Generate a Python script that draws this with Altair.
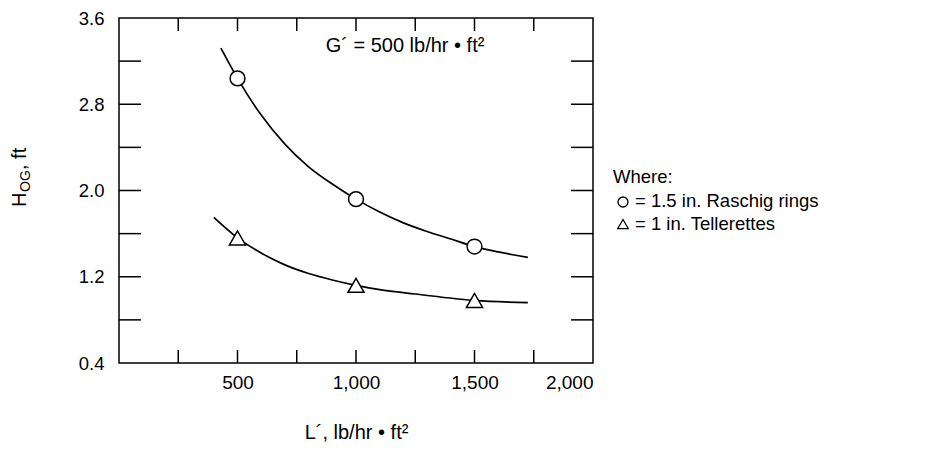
import altair as alt
import pandas as pd

# ---- data ----
marker_L = [500, 1000, 1500]
raschig_H = [3.04, 1.92, 1.48]
teller_H = [1.56, 1.12, 0.98]

curve_raschig_L = [430, 500, 600, 700, 800, 900, 1000, 1100, 1200, 1300, 1400, 1500, 1600, 1725]
curve_raschig_H = [3.32, 3.04, 2.70, 2.43, 2.22, 2.06, 1.92, 1.80, 1.70, 1.62, 1.55, 1.48, 1.43, 1.38]
curve_teller_L = [400, 500, 600, 700, 800, 900, 1000, 1100, 1250, 1500, 1725]
curve_teller_H = [1.75, 1.56, 1.42, 1.31, 1.23, 1.17, 1.12, 1.08, 1.04, 0.98, 0.96]

x_tick_values = [250, 500, 750, 1000, 1250, 1500, 1750]
x_label_values = [500, 1000, 1500, 2000]
y_tick_values = [0.8, 1.2, 1.6, 2.0, 2.4, 2.8, 3.2]
y_label_values = [0.4, 1.2, 2.0, 2.8, 3.6]

W, H = 474, 345
FONT = "Liberation Sans"

xs = alt.Scale(domain=[0, 2000], nice=False, zero=False)
ys = alt.Scale(domain=[0.4, 3.6], nice=False, zero=False)
xaxis = alt.Axis(values=x_label_values, format=",d", ticks=False, domain=False, grid=False,
                 labelFontSize=19, labelFont=FONT, labelColor="black", labelPadding=10,
                 title="L´, lb/hr • ft²", titleFont=FONT, titleFontSize=20,
                 titleFontWeight="normal", titleColor="black", titleY=69, titleBaseline="middle")
yaxis = alt.Axis(values=y_label_values, format=".1f", ticks=False, domain=False, grid=False,
                 labelFontSize=18.5, labelFont=FONT, labelColor="black", labelPadding=15, title=None)

X = alt.X("L:Q", scale=xs, axis=xaxis)
Y = alt.Y("H:Q", scale=ys, axis=yaxis)

curves = pd.concat([
    pd.DataFrame({"L": curve_raschig_L, "H": curve_raschig_H, "s": "r"}),
    pd.DataFrame({"L": curve_teller_L, "H": curve_teller_H, "s": "t"}),
])
lines = alt.Chart(curves).mark_line(interpolate="monotone", color="black", strokeWidth=1.7).encode(
    x=X, y=Y, detail="s:N")

circ = alt.Chart(pd.DataFrame({"L": marker_L, "H": raschig_H})).mark_point(
    shape="circle", size=220, fill="white", fillOpacity=1, stroke="black", strokeWidth=1.5, opacity=1
).encode(x=X, y=Y)
tri = alt.Chart(pd.DataFrame({"L": marker_L, "H": teller_H})).mark_point(
    shape="triangle-up", size=260, fill="white", fillOpacity=1, stroke="black", strokeWidth=1.5, opacity=1
).encode(x=X, y=Y)

xt = pd.DataFrame({"L": x_tick_values})
yt = pd.DataFrame({"H": y_tick_values})
tick_style = dict(color="black", strokeWidth=1.5)
bot = alt.Chart(xt).mark_rule(**tick_style).encode(x=X, y=alt.value(H), y2=alt.value(H - 13))
top = alt.Chart(xt).mark_rule(**tick_style).encode(x=X, y=alt.value(0), y2=alt.value(13))
left = alt.Chart(yt).mark_rule(**tick_style).encode(y=Y, x=alt.value(0), x2=alt.value(22))
right = alt.Chart(yt).mark_rule(**tick_style).encode(y=Y, x=alt.value(W), x2=alt.value(W - 22))

one = pd.DataFrame({"a": [0]})

def txt(s, x, y, size=18, align="left", angle=0, baseline="middle"):
    return alt.Chart(one).mark_text(text=s, font=FONT, fontSize=size, color="black",
                                    align=align, baseline=baseline, angle=angle).encode(
        x=alt.value(x), y=alt.value(y))

annot = txt("G´ = 500 lb/hr • ft²", 286, 28, size=20, align="center")

legend_texts = [
    txt("Where:", 494, 159, size=18.5),
    txt("= 1.5 in. Raschig rings", 516, 183, size=18.5),
    txt("= 1 in. Tellerettes", 516, 206, size=18.5),
]
leg_c = alt.Chart(one).mark_point(shape="circle", size=100, fill="white", fillOpacity=1,
                                  stroke="black", strokeWidth=1.3).encode(x=alt.value(504), y=alt.value(184))
leg_t = alt.Chart(one).mark_point(shape="triangle-up", size=110, fill="white", fillOpacity=1,
                                  stroke="black", strokeWidth=1.3).encode(x=alt.value(504), y=alt.value(206))

ytitle = [
    txt("H", -99, 189, size=20, angle=270),
    txt("OG", -93, 174, size=14, angle=270),
    txt(", ft", -99, 152, size=20, angle=270),
]

chart = alt.layer(
    lines, circ, tri, bot, top, left, right, annot, *legend_texts, leg_c, leg_t, *ytitle
).properties(
    width=W, height=H,
    autosize=alt.AutoSizeParams(type="none"),
    padding={"left": 111, "top": 10, "right": 342, "bottom": 84},
).configure_view(stroke="black", strokeWidth=1.5)

chart.save("out.html", embed_options={"renderer": "svg", "actions": False})
